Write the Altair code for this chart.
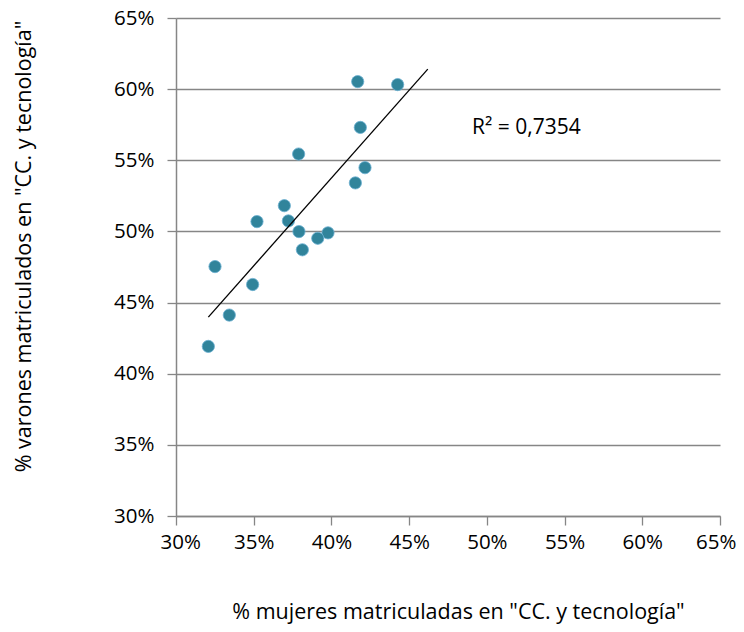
import altair as alt
import pandas as pd

# % mujeres matriculadas (x) and % varones matriculados (y) in "CC. y tecnología"
mujeres = [0.4169, 0.4426, 0.4186, 0.3789, 0.4216, 0.4154, 0.3697, 0.3521, 0.3723,
           0.3791, 0.3978, 0.3912, 0.3813, 0.3251, 0.3493, 0.3343, 0.3208]
varones = [0.6053, 0.6032, 0.5731, 0.5544, 0.5448, 0.5341, 0.5181, 0.5069, 0.5074,
           0.4999, 0.4990, 0.4952, 0.4871, 0.4753, 0.4627, 0.4412, 0.4192]
tick_values = [0.30, 0.35, 0.40, 0.45, 0.50, 0.55, 0.60, 0.65]
trend_extent = [0.3208, 0.462]
r2_label = ["R² = 0,7354"]
r2_pos_x = [0.4905]
r2_pos_y = [0.5728]

df = pd.DataFrame({"x": mujeres, "y": varones})
lab = pd.DataFrame({"x": r2_pos_x, "y": r2_pos_y, "t": r2_label})

FONT = "Open Sans"
x_title = '% mujeres matriculadas en "CC. y tecnología"'
y_title = '% varones matriculados en "CC. y tecnología"'

xs = alt.Scale(domain=[0.30, 0.65], nice=False, zero=False)
ys = alt.Scale(domain=[0.30, 0.65], nice=False, zero=False)

x_axis = alt.Axis(values=tick_values, format=".0%", grid=False, title=x_title,
                  titleX=282, titleY=102, titleBaseline="alphabetic", titleAlign="center",
                  labelPadding=7, labelFlush=True, labelFlushOffset=16)
y_axis = alt.Axis(values=tick_values, format=".0%", grid=True, title=y_title,
                  titleX=-152, titleY=228, titleBaseline="middle", titleAlign="center",
                  titleAngle=-90, labelPadding=13, labelFlush=False)

points = alt.Chart(df).mark_circle(size=150, color="#31849B", opacity=1,
                                   stroke="#6aaed0", strokeWidth=0.8).encode(
    x=alt.X("x:Q", scale=xs, axis=x_axis),
    y=alt.Y("y:Q", scale=ys, axis=y_axis),
)

trend = alt.Chart(df).transform_regression(
    "x", "y", extent=trend_extent
).mark_line(color="black", strokeWidth=1.3).encode(
    x=alt.X("x:Q", scale=xs),
    y=alt.Y("y:Q", scale=ys),
)

text = alt.Chart(lab).mark_text(align="left", baseline="middle", font=FONT,
                                fontSize=21, color="black").encode(
    x=alt.X("x:Q", scale=xs),
    y=alt.Y("y:Q", scale=ys),
    text="t:N",
)

chart = alt.layer(points, trend, text).properties(
    width=544, height=498,
    autosize=alt.AutoSizeParams(type="none"),
    padding={"left": 168, "top": 10, "right": 16, "bottom": 108},
).configure_view(stroke=None).configure_axis(
    labelFont=FONT, labelFontSize=20.5, labelColor="black",
    titleFont=FONT, titleFontSize=21.5, titleColor="black", titleFontWeight="normal",
    domainColor="#868686", domainWidth=1.5,
    tickColor="#868686", tickWidth=1.3, tickSize=9,
    gridColor="#868686", gridWidth=1.5, gridOpacity=1,
)

chart.save("out.html", embed_options={"renderer": "svg", "actions": False})
